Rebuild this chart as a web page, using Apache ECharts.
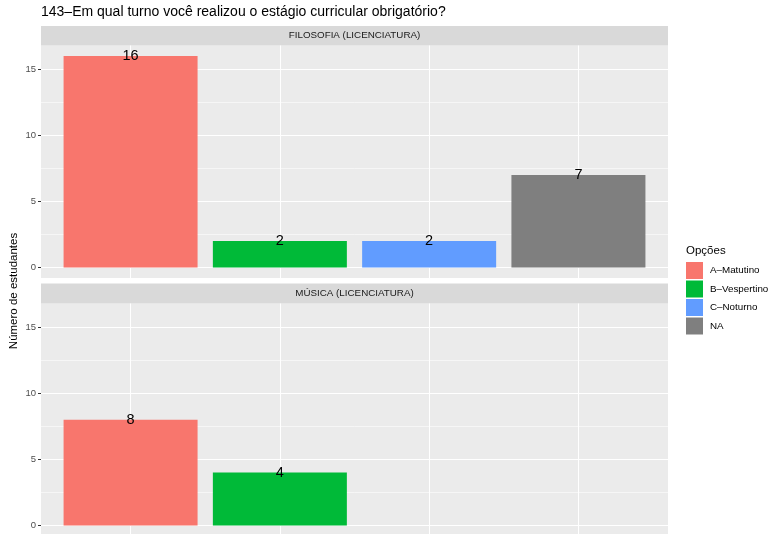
<!DOCTYPE html>
<html>
<head>
<meta charset="utf-8">
<script src="https://cdn.jsdelivr.net/npm/echarts@6/dist/echarts.min.js"></script>
<style>html,body{margin:0;padding:0;background:#fff}#c{width:769px;height:534px}</style>
</head>
<body>
<div id="c"></div>
<script>
// ---- data ----
const chartTitle = '143–Em qual turno você realizou o estágio curricular obrigatório?';
const yName = 'Número de estudantes';
const legendTitle = 'Opções';
const options = ['A–Matutino', 'B–Vespertino', 'C–Noturno', 'NA'];
const facets = ['FILOSOFIA (LICENCIATURA)', 'MÚSICA (LICENCIATURA)'];
const filosofia = [16, 2, 2, 7];
const musica = [8, 4, null, null];
const yMajorTicks = [0, 5, 10, 15];
const yMinorTicks = [2.5, 7.5, 12.5];
const xTicks = [1, 2, 3, 4];
const colors = ['#F8766D', '#00BA38', '#619CFF', '#7F7F7F'];

// ---- layout ----
const FONT = 'Liberation Sans';
const CH = 534;
const L = 41, W = 627, PH = 232.5;
const yMin = -0.8, yMax = 16.8;
const pxPerUnit = PH / (yMax - yMin);
const panels = [{strip: 26, top: 45.5}, {strip: 283.5, top: 303.5}];
// visible part of each panel (the lower panel runs past the bottom of the picture)
panels.forEach(p => {
  p.h = Math.min(PH, CH - p.top);
  p.min = yMin + (PH - p.h) / pxPerUnit;
});

const chart = echarts.init(document.getElementById('c'));

const grids = panels.map(p => ({left: L, top: p.top, width: W, height: p.h, show: true,
  backgroundColor: '#EBEBEB', borderWidth: 0, containLabel: false}));

const xAxes = panels.map((p, i) => ({
  type: 'value', gridIndex: i, min: 0.4, max: 4.6, position: 'bottom',
  axisLine: {show: false}, axisLabel: {show: false},
  axisTick: {show: false, customValues: xTicks},
  splitLine: {show: true, lineStyle: {color: '#FFFFFF', width: 1.1}}
}));

const yAxes = [];
panels.forEach((p, i) => {
  yAxes.push({
    type: 'value', gridIndex: i, min: p.min, max: yMax, position: 'left', offset: 0,
    axisLine: {show: false}, axisLabel: {show: false},
    axisTick: {show: false, customValues: yMinorTicks},
    splitLine: {show: true, lineStyle: {color: '#FFFFFF', width: 0.55}}
  });
  yAxes.push({
    type: 'value', gridIndex: i, min: p.min, max: yMax, position: 'left', offset: 0,
    axisLine: {show: false},
    axisTick: {show: true, length: 3, lineStyle: {color: '#333333', width: 1}, customValues: yMajorTicks},
    axisLabel: {show: true, color: '#4D4D4D', fontSize: 9.5, fontFamily: FONT, margin: 5, customValues: yMajorTicks},
    splitLine: {show: true, lineStyle: {color: '#FFFFFF', width: 1.1}}
  });
});

const facetData = [filosofia, musica];
const series = [];
facetData.forEach((vals, fi) => {
  options.forEach((name, oi) => {
    if (vals[oi] == null) return;
    series.push({
      type: 'bar', name: name, xAxisIndex: fi, yAxisIndex: fi * 2 + 1,
      data: [[xTicks[oi], vals[oi]]], barWidth: 134, barGap: '-100%',
      itemStyle: {color: colors[oi]},
      label: {show: true, position: ['50%', 0], align: 'center', verticalAlign: 'middle',
        color: '#000000', fontSize: 14.5, fontFamily: FONT, formatter: p => p.value[1]},
      silent: true, animation: false
    });
  });
});

const graphics = [];
panels.forEach((p, i) => {
  graphics.push({type: 'rect', left: L, top: p.strip, shape: {width: W, height: p.top - p.strip},
    style: {fill: '#D9D9D9'}, silent: true});
  graphics.push({type: 'text', x: L + W / 2, y: (p.strip + p.top) / 2,
    style: {text: facets[i], fill: '#1A1A1A', fontSize: 9.8, fontFamily: FONT, align: 'center', verticalAlign: 'middle'}});
});
graphics.push({type: 'text', x: 14, y: 291, rotation: Math.PI / 2,
  style: {text: yName, fill: '#000000', fontSize: 11.5, fontFamily: FONT, align: 'center', verticalAlign: 'middle'}});

chart.setOption({
  animation: false,
  textStyle: {fontFamily: FONT},
  title: [
    {text: chartTitle, left: 41, top: 5, padding: 0, textStyle: {fontSize: 14, fontWeight: 'normal', color: '#000', fontFamily: FONT}},
    {text: legendTitle, left: 686, top: 245, padding: 0, textStyle: {fontSize: 11.5, fontWeight: 'normal', color: '#000', fontFamily: FONT}}
  ],
  legend: {
    orient: 'vertical', left: 686, top: 262, padding: 0, itemWidth: 17, itemHeight: 17, itemGap: 1.5,
    icon: 'rect', selectedMode: false, data: options,
    textStyle: {fontSize: 9.8, color: '#000', fontFamily: FONT, padding: [0, 0, 0, 2]}
  },
  grid: grids, xAxis: xAxes, yAxis: yAxes, series: series, graphic: graphics
});
</script>
</body>
</html>
